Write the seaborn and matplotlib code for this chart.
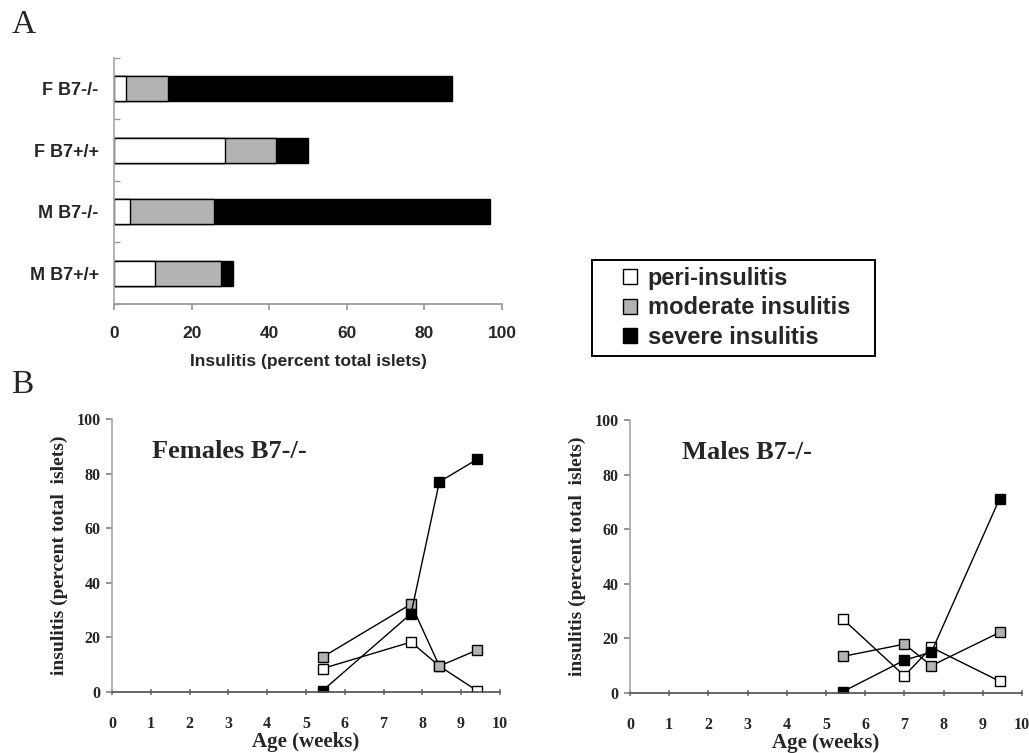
import matplotlib
matplotlib.use("Agg")
import matplotlib.pyplot as plt
import seaborn as sns
import pandas as pd
from matplotlib.patches import Patch, Rectangle
from matplotlib.ticker import FixedLocator

# ---------------- data ----------------
groups = ["F B7-/-", "F B7+/+", "M B7-/-", "M B7+/+"]
peri = [3.0, 28.5, 4.0, 10.6]
moderate = [11.0, 13.3, 21.8, 16.9]
severe = [73.0, 8.1, 71.0, 3.3]

fem_age = [5.43, 7.71, 8.44, 9.42]
fem_peri = [8.6, 18.3, 9.5, 0.4]
fem_mod = [12.8, 32.2, 9.5, 15.4]
fem_sev = [0.5, 28.7, 77.0, 85.3]

male_age = [5.43, 7.0, 7.69, 9.43]
male_peri = [27.1, 6.3, 16.7, 4.3]
male_mod = [13.4, 17.9, 10.0, 22.2]
male_sev = [0.5, 12.0, 15.0, 71.2]

legend_labels = ["peri-insulitis", "moderate insulitis", "severe insulitis"]
GRAY = "#b3b3b3"

sns.set_theme(style="white")
plt.rcParams["font.family"] = ["Liberation Sans", "DejaVu Sans"]

W, H = 1029, 753
fig = plt.figure(figsize=(W / 100, H / 100), dpi=100)

# ---------------- Panel A ----------------
axA = fig.add_axes([0.1108, 0.5963, 0.377, 0.3267])
dfA = pd.DataFrame({"group": groups, "peri": peri, "moderate": moderate, "severe": severe})
dfA["c1"] = dfA["peri"]
dfA["c2"] = dfA["peri"] + dfA["moderate"]
dfA["c3"] = dfA["c2"] + dfA["severe"]
for col, colr in [("c3", "black"), ("c2", GRAY), ("c1", "white")]:
    sns.barplot(data=dfA, x=col, y="group", orient="h", color=colr, width=0.4,
                edgecolor="black", linewidth=1.0, saturation=1, ax=axA, order=groups)
axA.set_xlim(0, 100)
axA.set_ylim(3.5, -0.5)
axA.set_xticks([0, 20, 40, 60, 80, 100])
axA.set_xlabel("Insulitis (percent total islets)", fontsize=12.5, fontweight="bold", labelpad=9)
axA.set_ylabel("")
for lab in axA.get_xticklabels():
    lab.set_fontweight("bold"); lab.set_fontsize(12.5)
for lab in axA.get_yticklabels():
    lab.set_fontweight("bold"); lab.set_fontsize(13)
axA.yaxis.set_minor_locator(FixedLocator([-0.5, 0.5, 1.5, 2.5, 3.5]))
axA.tick_params(axis="y", which="major", length=0, pad=11)
axA.tick_params(axis="y", which="minor", direction="in", length=4, color="#999999", left=True)
axA.tick_params(axis="x", which="major", direction="out", length=4, color="#999999", bottom=True, pad=12)
for s in ["top", "right"]:
    axA.spines[s].set_visible(False)
axA.spines["left"].set_color("#aaaaaa")
axA.spines["bottom"].set_color("#999999")

handles = [Patch(facecolor=c, edgecolor="black", linewidth=1.0) for c in ["white", GRAY, "black"]]
leg = fig.legend(handles, legend_labels, loc="center left",
                 bbox_to_anchor=(623 / W, 1 - 308 / H),
                 frameon=False, handlelength=0.6, handleheight=0.6, handletextpad=0.45,
                 labelspacing=0.28, borderpad=0, borderaxespad=0,
                 prop={"family": "Liberation Sans", "weight": "bold", "size": 17})
fig.patches.append(Rectangle((592 / W, 1 - 356 / H), 283 / W, 96 / H, transform=fig.transFigure,
                             fill=False, edgecolor="black", linewidth=1.4))

# ---------------- Panel B ----------------
serif = "Liberation Serif"

def panel(ax, ages, pe, mo, se, title, tx):
    for vals, fc in [(pe, "white"), (mo, GRAY), (se, "black")]:
        sns.lineplot(x=ages, y=vals, ax=ax, color="black", linewidth=1.0, marker="s",
                     markersize=7.5, markerfacecolor=fc, markeredgecolor="black",
                     markeredgewidth=1.0, sort=False)
    ax.set_xlim(0, 10)
    ax.set_ylim(0, 100)
    ax.set_xticks(range(0, 11))
    ax.set_yticks(range(0, 101, 20))
    ax.set_xlabel("Age (weeks)", fontsize=15, fontweight="bold", family=serif, labelpad=0)
    ax.set_ylabel("insulitis (percent total  islets)", fontsize=14, fontweight="bold", family=serif, labelpad=6)
    for lab in ax.get_xticklabels() + ax.get_yticklabels():
        lab.set_fontweight("bold"); lab.set_fontsize(11.5); lab.set_family(serif)
    ax.tick_params(axis="x", direction="inout", length=5, color="#777777", bottom=True, pad=15)
    ax.tick_params(axis="y", direction="out", length=4, color="#888888", left=True, pad=4)
    for s in ["top", "right"]:
        ax.spines[s].set_visible(False)
    ax.spines["left"].set_color("#aaaaaa")
    ax.spines["bottom"].set_color("#555555")
    ax.text(tx, 88, title, fontsize=19, fontweight="bold", family=serif, va="center", ha="left")

axB1 = fig.add_axes([0.1088, 0.081, 0.377, 0.3625])
panel(axB1, fem_age, fem_peri, fem_mod, fem_sev, "Females B7-/-", 1.03)
axB2 = fig.add_axes([0.6122, 0.0797, 0.381, 0.3625])
panel(axB2, male_age, male_peri, male_mod, male_sev, "Males B7-/-", 1.32)

fig.text(0.011, 0.967, "A", fontsize=24, family=serif, va="center", ha="left")
fig.text(0.011, 0.489, "B", fontsize=24, family=serif, va="center", ha="left")

fig.savefig("out.png", dpi=100)
